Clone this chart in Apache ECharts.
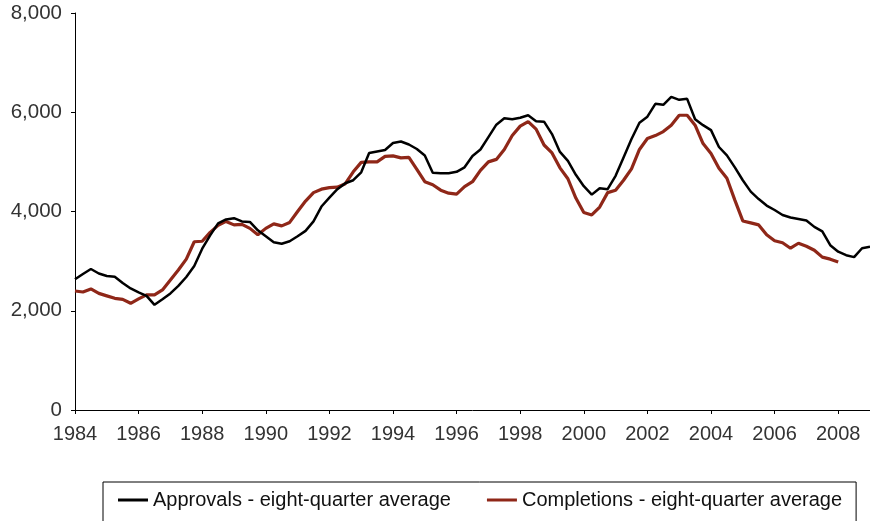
<!DOCTYPE html>
<html>
<head>
<meta charset="utf-8">
<script src="https://cdn.jsdelivr.net/npm/echarts@6/dist/echarts.min.js"></script>
<style>
  html, body { margin: 0; padding: 0; background: #fff; }
  #chart { width: 870px; height: 521px; }
</style>
</head>
<body>
<div id="chart"></div>
<script>
// quarterly series, 1984 Q1 .. 2009 Q1
const firstYear = 1984;
const quarterCount = 101;

const approvals = [
  2634, 2740, 2841, 2750, 2700, 2686, 2560, 2450, 2370, 2300,
  2120, 2230, 2350, 2500, 2680, 2900, 3250, 3520, 3760, 3840,
  3865, 3800, 3790, 3620, 3500, 3380, 3350, 3400, 3500, 3610,
  3800, 4100, 4280, 4450, 4570, 4630, 4790, 5180, 5210, 5240,
  5380, 5410, 5350, 5260, 5130, 4780, 4770, 4770, 4800, 4890,
  5120, 5250, 5500, 5750, 5880, 5860, 5890, 5940, 5820, 5810,
  5560, 5200, 5020, 4740, 4510, 4340, 4470, 4450, 4720, 5090,
  5460, 5790, 5910, 6170, 6150, 6310, 6250, 6270, 5860, 5740,
  5640, 5300, 5130, 4890, 4630, 4400, 4250, 4120, 4030, 3930,
  3880, 3850, 3820, 3690, 3600, 3320, 3190, 3120, 3080, 3260,
  3290
];

const completions = [
  2398, 2378, 2440, 2350, 2300, 2250, 2230, 2150, 2240, 2320,
  2320, 2420, 2620, 2820, 3040, 3390, 3400, 3580, 3720, 3800,
  3730, 3740, 3660, 3530, 3660, 3750, 3710, 3780, 4000, 4210,
  4380, 4450, 4480, 4490, 4560, 4800, 4990, 5000, 5000, 5110,
  5120, 5080, 5090, 4850, 4600, 4540, 4430, 4370, 4350, 4500,
  4600, 4830, 5000, 5050, 5250, 5530, 5720, 5810, 5660, 5340,
  5180, 4880, 4660, 4270, 3980, 3930, 4090, 4380, 4430, 4630,
  4860, 5250, 5470, 5530, 5610, 5740, 5940, 5940, 5740, 5370,
  5170, 4870, 4670, 4230, 3810, 3770, 3730, 3530, 3410, 3370,
  3260, 3360, 3300, 3220, 3080, 3040, 2980
];

const seriesNames = [
  'Approvals - eight-quarter average',
  'Completions - eight-quarter average'
];

// category labels like "1984 Q1"
const quarters = [];
for (let i = 0; i < quarterCount; i++) {
  quarters.push((firstYear + Math.floor(i / 4)) + ' Q' + (i % 4 + 1));
}

const fontFamily = '"Liberation Sans", Arial, sans-serif';
const textColor = '#333';

const chart = echarts.init(document.getElementById('chart'));
chart.setOption({
  animation: false,
  grid: {
    left: 75,
    right: 0,
    top: 13,
    bottom: 111
  },
  xAxis: {
    type: 'category',
    data: quarters,
    boundaryGap: false,
    axisLine: { lineStyle: { color: '#000', width: 1 } },
    axisTick: {
      show: true,
      interval: 7,
      length: 4,
      inside: false,
      lineStyle: { color: '#000' }
    },
    axisLabel: {
      interval: 7,
      margin: 14,
      color: textColor,
      fontSize: 20,
      fontFamily: fontFamily,
      formatter: function (v) { return v.slice(0, 4); }
    },
    splitLine: { show: false }
  },
  yAxis: {
    type: 'value',
    min: 0,
    max: 8000,
    interval: 2000,
    axisLine: { show: true, lineStyle: { color: '#000', width: 1 } },
    axisTick: { show: true, length: 4, lineStyle: { color: '#000' } },
    axisLabel: {
      margin: 13,
      color: textColor,
      fontSize: 20.5,
      fontFamily: fontFamily,
      formatter: function (v) { return v.toLocaleString('en-US'); }
    },
    splitLine: { show: false }
  },
  legend: {
    left: 103,
    top: 482,
    width: 760,
    padding: [8, 14, 30, 15],
    borderColor: '#000',
    borderWidth: 1,
    icon: 'rect',
    itemWidth: 30,
    itemHeight: 3,
    itemGap: 36,
    textStyle: {
      color: '#111',
      fontSize: 20,
      fontFamily: fontFamily
    },
    data: seriesNames
  },
  series: [
    {
      name: seriesNames[0],
      type: 'line',
      data: approvals,
      symbol: 'none',
      lineStyle: { color: '#000', width: 2.5 },
      itemStyle: { color: '#000' },
      z: 3
    },
    {
      name: seriesNames[1],
      type: 'line',
      data: completions,
      symbol: 'none',
      lineStyle: { color: '#8f2718', width: 3.2 },
      itemStyle: { color: '#8f2718' },
      z: 2
    }
  ]
});
</script>
</body>
</html>
